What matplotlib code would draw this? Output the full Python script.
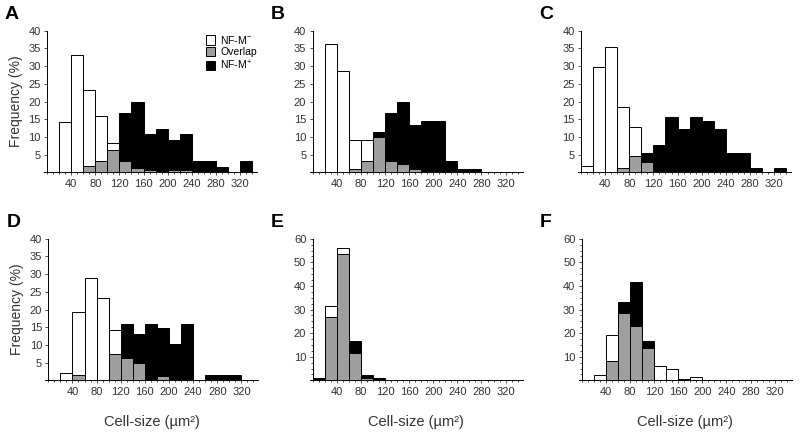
import numpy as np
import matplotlib
matplotlib.use('Agg')
import matplotlib.pyplot as plt
from matplotlib.patches import Patch
from matplotlib.ticker import MultipleLocator

# ビンの左端（幅20 µm²）
bin_left = [0, 20, 40, 60, 80, 100, 120, 140, 160, 180, 200, 220, 240, 260, 280, 300, 320]

# 各パネルの度数（%）: NF-M-, overlap, NF-M+
a_neg = [0, 14.3, 33.3, 23.3, 16, 8.2, 0, 0, 0, 0, 0, 0, 0, 0, 0, 0, 0]
a_ovl = [0, 0, 0, 1.8, 3.2, 6.3, 3.2, 1.1, 0.6, 0, 0.6, 0.6, 0, 0, 0, 0, 0]
a_pos = [0, 0, 0, 0, 0, 0, 16.7, 19.8, 10.7, 12.2, 9.2, 10.7, 3.1, 3.1, 1.6, 0, 3.1]

b_neg = [0, 36.2, 28.7, 9.2, 9.2, 0, 0, 0, 0, 0, 0, 0, 0, 0, 0, 0, 0]
b_ovl = [0, 0, 0, 1, 3.1, 10.1, 3.3, 2.4, 0.8, 0, 0, 0, 0, 0, 0, 0, 0]
b_pos = [0, 0, 0, 0, 0, 11.4, 16.8, 19.8, 13.5, 14.6, 14.6, 3.2, 1, 1, 0, 0, 0]

c_neg = [1.7, 29.8, 35.4, 18.5, 12.8, 0, 0, 0, 0, 0, 0, 0, 0, 0, 0, 0, 0]
c_ovl = [0, 0, 0, 1.2, 4.5, 2.9, 0, 0, 0, 0, 0, 0, 0, 0, 0, 0, 0]
c_pos = [0, 0, 0, 0, 0, 5.5, 7.8, 15.5, 12.1, 15.5, 14.4, 12.1, 5.5, 5.5, 1.3, 0, 1.3]

d_neg = [0, 2.2, 19.2, 29, 23.2, 14.1, 0, 0, 0, 0, 0, 0, 0, 0, 0, 0, 0]
d_ovl = [0, 0, 1.5, 0, 0, 7.5, 6.2, 4.9, 0.5, 1.2, 0, 0, 0, 0, 0, 0, 0]
d_pos = [0, 0, 0, 0, 0, 0, 16, 13.2, 16, 14.8, 10.3, 16, 0, 1.6, 1.6, 1.6, 0]

e_neg = [0, 31.5, 56.2, 0, 0, 0, 0, 0, 0, 0, 0, 0, 0, 0, 0, 0, 0]
e_ovl = [0, 26.8, 53.4, 11.7, 1, 0, 0, 0, 0, 0, 0, 0, 0, 0, 0, 0, 0]
e_pos = [0.8, 0, 0, 16.8, 2.3, 0.8, 0, 0, 0, 0, 0, 0, 0, 0, 0, 0, 0]

f_neg = [0, 2.1, 19.3, 0, 0, 0, 6, 5, 0, 1.3, 0, 0, 0, 0, 0, 0, 0]
f_ovl = [0, 0, 8.3, 28.5, 23, 13.8, 0, 0, 0, 0, 0, 0, 0, 0, 0, 0, 0]
f_pos = [0, 0, 0, 33.3, 41.7, 16.8, 0, 0, 0.5, 0, 0, 0, 0, 0, 0, 0, 0]

x_ticks = [40, 80, 120, 160, 200, 240, 280, 320]
legend_labels = ['NF-M$^{-}$', 'Overlap', 'NF-M$^{+}$']

GRAY = '#9e9e9e'
TEXT = '#333333'

plt.rcParams['font.family'] = ['Liberation Sans', 'DejaVu Sans']
plt.rcParams['mathtext.default'] = 'regular'


def draw_panel(ax, neg, ovl, pos, ymax, ystep, yminor=None):
    kw = dict(width=20, align='edge', edgecolor='black', linewidth=0.7)
    ax.bar(bin_left, neg, color='white', **kw)   # NF-M-
    ax.bar(bin_left, pos, color='black', **kw)   # NF-M+
    ax.bar(bin_left, ovl, color=GRAY, **kw)      # 重なり部分
    ax.set_xlim(-5, 348)
    ax.set_ylim(0, ymax)
    ax.spines['left'].set_position(('data', 0))
    ax.spines['top'].set_visible(False)
    ax.spines['right'].set_visible(False)
    ax.set_xticks(x_ticks)
    ax.xaxis.set_minor_locator(MultipleLocator(10))
    ax.set_yticks(np.arange(ystep, ymax + 0.1, ystep))
    if yminor is not None:
        ax.yaxis.set_minor_locator(MultipleLocator(yminor))
    ax.tick_params(labelsize=8, colors=TEXT, length=2.5, width=0.6, pad=2)
    ax.tick_params(which='minor', length=1.5, width=0.5)
    for s in ax.spines.values():
        s.set_linewidth(0.7)


def main():
    fig = plt.figure(figsize=(8, 4.32), dpi=100)
    w = 213 / 800
    h = 141.5 / 432
    lefts = [44 / 800, 309.5 / 800, 578 / 800]
    top_bottom = 1 - 172.3 / 432
    low_bottom = 1 - 380.3 / 432

    panels = [
        (lefts[0], top_bottom, a_neg, a_ovl, a_pos, 40, 5, 'A'),
        (lefts[1], top_bottom, b_neg, b_ovl, b_pos, 40, 5, 'B'),
        (lefts[2], top_bottom, c_neg, c_ovl, c_pos, 40, 5, 'C'),
        (lefts[0] + 1.3 / 800, low_bottom, d_neg, d_ovl, d_pos, 40, 5, 'D'),
        (lefts[1], low_bottom, e_neg, e_ovl, e_pos, 60, 10, 'E'),
        (lefts[2] + 0.6 / 800, low_bottom, f_neg, f_ovl, f_pos, 60, 10, 'F'),
    ]
    axes = []
    for left, bottom, neg, ovl, pos, ymax, ystep, letter in panels:
        ax = fig.add_axes([left, bottom, w, h])
        draw_panel(ax, neg, ovl, pos, ymax, ystep, 2.5 if ymax == 60 else None)
        # パネル記号
        fig.text(left - 39 / 800, bottom + h + 8 / 432, letter,
                 fontsize=14, fontweight='bold', ha='left', va='bottom')
        axes.append(ax)

    for ax in (axes[0], axes[3]):
        ax.set_ylabel('Frequency (%)', fontsize=10, color=TEXT, labelpad=4)
    for ax in axes[3:]:
        ax.set_xlabel('Cell-size (µm²)', fontsize=10.5, color=TEXT, labelpad=13)

    # 凡例
    handles = [Patch(facecolor=c, edgecolor='black', linewidth=0.7)
               for c in ('white', GRAY, 'black')]
    axes[0].legend(handles, legend_labels, loc='upper right', frameon=False,
                   fontsize=7.5, handlelength=0.9, handleheight=1.0,
                   handletextpad=0.5, labelspacing=0.12, borderaxespad=0.0,
                   bbox_to_anchor=(1.02, 1.01))

    fig.savefig('out.png', dpi=100)


if __name__ == '__main__':
    main()
